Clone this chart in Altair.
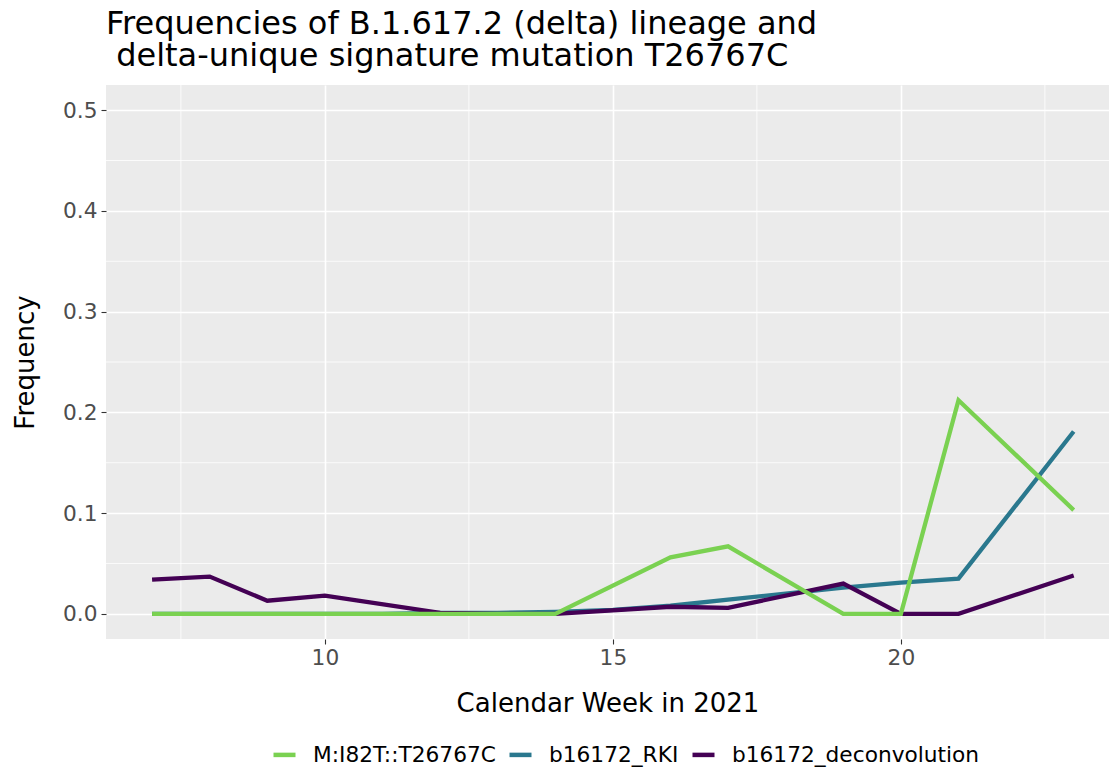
import altair as alt
import pandas as pd

# ---- data ----
series_names = ["M:I82T::T26767C", "b16172_RKI", "b16172_deconvolution"]
series_colors = ["#7AD151", "#2A788E", "#440154"]

green_weeks = [7, 8, 9, 10, 11, 12, 13, 14, 16, 17, 19, 20, 21, 23]
green_vals = [0, 0, 0, 0, 0, 0, 0, 0, 0.056, 0.067, 0.0, 0.0, 0.212, 0.103]

teal_weeks = [7, 8, 9, 10, 11, 12, 13, 14, 15, 16, 17, 18, 19, 20, 21, 23]
teal_vals = [0, 0, 0, 0, 0, 0.001, 0.001, 0.002, 0.004, 0.008, 0.014, 0.020, 0.026, 0.031, 0.035, 0.181]

purple_weeks = [7, 8, 9, 10, 12, 13, 14, 16, 17, 19, 20, 21, 23]
purple_vals = [0.034, 0.037, 0.013, 0.018, 0.001, 0.0, 0.0, 0.007, 0.006, 0.030, 0.0, 0.0, 0.038]

x_major = [10, 15, 20]
x_minor = [7.5, 12.5, 17.5, 22.5]
y_major = [0.0, 0.1, 0.2, 0.3, 0.4, 0.5]
y_minor = [0.05, 0.15, 0.25, 0.35, 0.45]

title_lines = ["Frequencies of B.1.617.2 (delta) lineage and",
               "\u200b\u00a0delta-unique signature mutation T26767C"]

FONT = "DejaVu Sans"

def frame(weeks, vals, name):
    return pd.DataFrame({"week": weeks, "value": vals, "series": name})

df_green = frame(green_weeks, green_vals, series_names[0])
df_teal = frame(teal_weeks, teal_vals, series_names[1])
df_purple = frame(purple_weeks, purple_vals, series_names[2])

xscale = alt.Scale(domain=[6.2, 23.613], nice=False, zero=False)
yscale = alt.Scale(domain=[-0.025, 0.525], nice=False, zero=False)
cscale = alt.Scale(domain=series_names, range=series_colors)

xaxis = alt.Axis(values=x_major, title="Calendar Week in 2021", grid=True,
                 gridColor="white", gridWidth=1.6, domain=False,
                 tickColor="#333333", tickSize=5, tickWidth=1.1,
                 labelFont=FONT, labelFontSize=21.7, labelColor="#4D4D4D", labelPadding=3,
                 titleFont=FONT, titleFontSize=26, titleColor="black",
                 titleFontWeight="normal", titlePadding=22)
yaxis = alt.Axis(values=y_major, format=".1f", title="Frequency", grid=True,
                 gridColor="white", gridWidth=1.6, domain=False,
                 tickColor="#333333", tickSize=5, tickWidth=1.1,
                 labelFont=FONT, labelFontSize=21.7, labelColor="#4D4D4D", labelPadding=4,
                 titleFont=FONT, titleFontSize=26, titleColor="black",
                 titleFontWeight="normal", titlePadding=24)

xminor = alt.Chart(pd.DataFrame({"v": x_minor})).mark_rule(color="white", strokeWidth=0.8).encode(
    x=alt.X("v:Q", scale=xscale, axis=xaxis))
yminor = alt.Chart(pd.DataFrame({"v": y_minor})).mark_rule(color="white", strokeWidth=0.8).encode(
    y=alt.Y("v:Q", scale=yscale, axis=yaxis))

legend = alt.Legend(title=None, orient="none", direction="horizontal",
                    legendX=165, legendY=656, padding=0,
                    symbolType="stroke", symbolStrokeWidth=4.5, symbolSize=484,
                    labelFont=FONT, labelFontSize=21.7, labelColor="black", labelLimit=0,
                    columnPadding=4, labelOffset=15)

def line(df):
    return alt.Chart(df).mark_line(strokeWidth=4.3).encode(
        x=alt.X("week:Q", scale=xscale, axis=xaxis),
        y=alt.Y("value:Q", scale=yscale, axis=yaxis),
        color=alt.Color("series:N", scale=cscale, legend=legend),
    )

chart = alt.layer(xminor, yminor, line(df_teal), line(df_purple), line(df_green)).properties(
    width=1003, height=554,
    background="white",
    title=alt.TitleParams(text=title_lines, anchor="start", frame="group",
                          font=FONT, fontSize=32, fontWeight="normal",
                          color="black", lineHeight=32, offset=12),
    autosize=alt.AutoSizeParams(type="none"),
    padding={"left": 98, "top": 77, "right": 0, "bottom": 129},
).configure_view(fill="#EBEBEB", stroke=None)

chart.save("out.html", embed_options={"renderer": "svg", "actions": False})
